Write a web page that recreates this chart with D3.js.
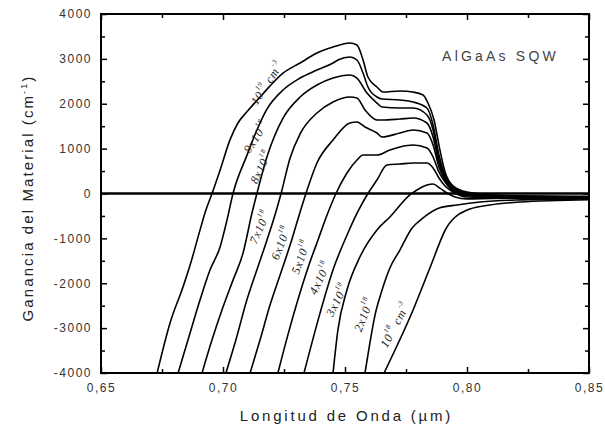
<!DOCTYPE html>
<html>
<head>
<meta charset="utf-8">
<script src="https://cdn.jsdelivr.net/npm/d3@7"></script>
<style>
  body { margin: 0; background: #fff; }
</style>
</head>
<body>
<div id="viz"></div>
<script>
// gain curves: [wavelength (um), gain (cm^-1)]
var g1e19 = [[0.6730,-4000],[0.6783,-2885],[0.6836,-2083],[0.6869,-1526],[0.6906,-810],[0.6930,-370],
  [0.6955,0],[0.6988,520],[0.7029,1200],[0.7060,1560],[0.7098,1820],[0.7152,2150],[0.7246,2685],[0.7316,2908],
  [0.7385,3130],[0.7451,3264],[0.7520,3353],[0.7549,3309],[0.7574,2975],[0.7594,2596],[0.7631,2373],
  [0.7656,2261],[0.7725,2284],[0.7779,2261],[0.7820,2195],[0.7840,2016],[0.7865,1637],[0.7889,969],
  [0.7910,480],[0.7943,170],[0.8000,30],[0.8100,-30],[0.8258,-55],[0.8500,-65]];
var g9e18 = [[0.6816,-4000],[0.6865,-3110],[0.6906,-2370],[0.6947,-1700],[0.6988,-1190],[0.7016,-600],
  [0.7041,0],[0.7098,850],[0.7139,1415],[0.7180,1880],[0.7246,2306],[0.7316,2573],[0.7385,2752],
  [0.7451,2908],[0.7471,2975],[0.7520,3041],[0.7549,2975],[0.7574,2685],[0.7594,2373],[0.7631,2150],
  [0.7652,2105],[0.7725,2083],[0.7779,2039],[0.7836,1905],[0.7861,1526],[0.7885,858],[0.7910,412],
  [0.7943,145],[0.8000,10],[0.8100,-40],[0.8250,-60],[0.8500,-75]];
var g8e18 = [[0.6914,-4000],[0.6955,-3260],[0.7000,-2530],[0.7041,-1930],[0.7082,-1330],[0.7119,-430],
  [0.7139,0],[0.7180,813],[0.7246,1680],[0.7316,2150],[0.7385,2417],[0.7451,2573],[0.7520,2640],
  [0.7549,2573],[0.7590,2239],[0.7631,2016],[0.7652,1927],[0.7725,1905],[0.7779,1905],[0.7836,1749],
  [0.7861,1415],[0.7885,746],[0.7910,368],[0.7943,120],[0.8000,0],[0.8100,-45],[0.8250,-65],[0.8500,-85]];
var g7e18 = [[0.7012,-4000],[0.7053,-3260],[0.7098,-2370],[0.7139,-1700],[0.7180,-1040],[0.7213,-480],
  [0.7238,0],[0.7275,790],[0.7316,1330],[0.7385,1794],[0.7451,2039],[0.7520,2150],[0.7549,2128],
  [0.7582,1860],[0.7631,1637],[0.7652,1637],[0.7725,1660],[0.7779,1682],[0.7836,1571],[0.7861,1259],
  [0.7885,680],[0.7910,345],[0.7943,100],[0.8000,-30],[0.8100,-55],[0.8250,-70],[0.8500,-85]];
var g6e18 = [[0.7111,-4000],[0.7152,-3260],[0.7193,-2480],[0.7234,-1815],[0.7275,-1150],[0.7316,-410],
  [0.7340,0],[0.7385,680],[0.7451,1192],[0.7520,1571],[0.7549,1593],[0.7582,1482],[0.7631,1348],
  [0.7652,1259],[0.7725,1348],[0.7779,1415],[0.7836,1348],[0.7861,1080],[0.7885,590],[0.7910,300],
  [0.7943,78],[0.8000,-30],[0.8100,-60],[0.8250,-75],[0.8500,-90]];
var g5e18 = [[0.7225,-4000],[0.7266,-3150],[0.7307,-2370],[0.7348,-1660],[0.7389,-1040],[0.7430,-430],
  [0.7463,0],[0.7508,457],[0.7549,746],[0.7574,858],[0.7631,858],[0.7684,969],[0.7725,1036],
  [0.7779,1080],[0.7836,1013],[0.7861,813],[0.7885,480],[0.7910,256],[0.7943,56],[0.8000,-50],
  [0.8100,-70],[0.8250,-80],[0.8500,-95]];
var g4e18 = [[0.7332,-4000],[0.7398,-2660],[0.7451,-1700],[0.7512,-880],[0.7552,-410],[0.7594,0],
  [0.7631,301],[0.7672,635],[0.7725,657],[0.7779,680],[0.7836,680],[0.7861,570],[0.7885,345],
  [0.7910,167],[0.7943,33],[0.8000,-78],[0.8100,-85],[0.8250,-90],[0.8500,-100]];
var g3e18 = [[0.7451,-4000],[0.7471,-3041],[0.7508,-2150],[0.7561,-1415],[0.7631,-813],[0.7684,-524],
  [0.7766,-33],[0.7795,78],[0.7836,189],[0.7861,212],[0.7889,120],[0.7918,11],[0.7951,-78],
  [0.8000,-120],[0.8100,-110],[0.8250,-105],[0.8500,-105]];
var g2e18 = [[0.7582,-4000],[0.7602,-3330],[0.7623,-2710],[0.7648,-2220],[0.7684,-1660],[0.7725,-1260],
  [0.7775,-770],[0.7820,-545],[0.7889,-320],[0.7959,-256],[0.8053,-190],[0.8200,-145],[0.8500,-120]];
var g1e18 = [[0.7660,-4000],[0.7779,-2596],[0.7848,-1660],[0.7918,-746],[0.8012,-345],[0.8094,-256],
  [0.8217,-190],[0.8500,-140]];

var series = [g1e19, g9e18, g8e18, g7e18, g6e18, g5e18, g4e18, g3e18, g2e18, g1e18];

// curve labels: base, exponent, unit
var labelBase = ["10", "9x10", "8x10", "7x10", "6x10", "5x10", "4x10", "3x10", "2x10", "10"];
var labelExp = ["19", "18", "18", "18", "18", "18", "18", "18", "18", "18"];
var labelUnit = [true, false, false, false, false, false, false, false, false, true];
// where each label sits: wavelength, gain, rotation
var labelAt = [[0.7180,2460,-57],[0.7135,1260,-57],[0.7156,590,-64],[0.7152,-750,-66],
  [0.7238,-1100,-68],[0.7320,-1415,-70],[0.7398,-1880,-64],[0.7468,-2370,-63],
  [0.7578,-2700,-68],[0.7705,-2930,-62]];

var xMajor = [0.65, 0.70, 0.75, 0.80, 0.85];
var xMinor = [0.675, 0.725, 0.775, 0.825];
var yMajor = [-4000, -3000, -2000, -1000, 0, 1000, 2000, 3000, 4000];
var yMinor = [-3500, -2500, -1500, -500, 500, 1500, 2500, 3500];

var width = 605;
var height = 428;
var margin = {left: 101, top: 14, right: 16, bottom: 55};
var plotW = width - margin.left - margin.right;
var plotH = height - margin.top - margin.bottom;

var x = d3.scaleLinear().domain([0.65, 0.85]).range([0, plotW]);
var y = d3.scaleLinear().domain([-4000, 4000]).range([plotH, 0]);

var svg = d3.select("#viz")
  .append("svg")
  .attr("width", width)
  .attr("height", height);

svg.append("defs").append("clipPath")
  .attr("id", "clip")
  .append("rect")
  .attr("width", plotW)
  .attr("height", plotH);

var plot = svg.append("g")
  .attr("transform", "translate(" + margin.left + "," + margin.top + ")");

var fmtX = function(d) { return d3.format(".2f")(d).replace(".", ","); };
var fmtY = function(d) { return d < 0 ? "-" + Math.abs(d) : String(d); };

function tickAxis(axis, tr) {
  var g = plot.append("g").attr("transform", tr).call(axis);
  g.select(".domain").remove();
  g.selectAll("line").attr("stroke", "#000").attr("stroke-width", 1.5);
  g.selectAll("text")
    .attr("fill", "#333")
    .attr("font-family", "Liberation Sans, Arial, sans-serif")
    .attr("font-size", "12px")
    .attr("letter-spacing", "1.5px");
  return g;
}

// bottom / left with labels
tickAxis(d3.axisBottom(x).tickValues(xMajor).tickSize(-6).tickSizeOuter(0)
  .tickPadding(10).tickFormat(fmtX), "translate(0," + plotH + ")");
tickAxis(d3.axisBottom(x).tickValues(xMinor).tickSize(-4).tickSizeOuter(0)
  .tickFormat(""), "translate(0," + plotH + ")");
tickAxis(d3.axisLeft(y).tickValues(yMajor).tickSize(-6).tickSizeOuter(0)
  .tickPadding(9).tickFormat(fmtY), "translate(0,0)");
tickAxis(d3.axisLeft(y).tickValues(yMinor).tickSize(-4).tickSizeOuter(0)
  .tickFormat(""), "translate(0,0)");
// top / right, ticks only
tickAxis(d3.axisTop(x).tickValues(xMajor).tickSize(-6).tickSizeOuter(0).tickFormat(""), "translate(0,0)");
tickAxis(d3.axisTop(x).tickValues(xMinor).tickSize(-4).tickSizeOuter(0).tickFormat(""), "translate(0,0)");
tickAxis(d3.axisRight(y).tickValues(yMajor).tickSize(-6).tickSizeOuter(0).tickFormat(""), "translate(" + plotW + ",0)");
tickAxis(d3.axisRight(y).tickValues(yMinor).tickSize(-4).tickSizeOuter(0).tickFormat(""), "translate(" + plotW + ",0)");

// zero line
plot.append("line")
  .attr("x1", 0)
  .attr("x2", plotW)
  .attr("y1", y(0))
  .attr("y2", y(0))
  .attr("stroke", "#000")
  .attr("stroke-width", 2.5);

// curves
var line = d3.line()
  .x(function(d) { return x(d[0]); })
  .y(function(d) { return y(d[1]); })
  .curve(d3.curveMonotoneX);

plot.append("g")
  .attr("clip-path", "url(#clip)")
  .selectAll("path")
  .data(series)
  .enter()
  .append("path")
  .attr("d", line)
  .attr("fill", "none")
  .attr("stroke", "#000")
  .attr("stroke-width", 1.6)
  .attr("stroke-linejoin", "round");

// frame
plot.append("rect")
  .attr("width", plotW)
  .attr("height", plotH)
  .attr("fill", "none")
  .attr("stroke", "#000")
  .attr("stroke-width", 2);

// curve labels
var labels = plot.append("g")
  .selectAll("text")
  .data(labelAt)
  .enter()
  .append("text")
  .attr("transform", function(d) {
    return "translate(" + x(d[0]) + "," + y(d[1]) + ") rotate(" + d[2] + ")";
  })
  .attr("text-anchor", "middle")
  .attr("dominant-baseline", "central")
  .attr("font-family", "Liberation Serif, Times New Roman, serif")
  .attr("font-style", "italic")
  .attr("font-size", "12px")
  .attr("letter-spacing", "0.8px")
  .attr("fill", "#222");

labels.each(function(d, i) {
  var t = d3.select(this);
  t.append("tspan").text(labelBase[i]);
  t.append("tspan").text(labelExp[i]).attr("font-size", "7px").attr("dy", "-5");
  if (labelUnit[i]) {
    t.append("tspan").text(" cm").attr("dy", "5");
    t.append("tspan").text("-3").attr("font-size", "7px").attr("dy", "-5");
  }
});

// inset title
plot.append("text")
  .attr("x", x(0.7898))
  .attr("y", y(3060))
  .attr("dominant-baseline", "central")
  .attr("font-family", "Liberation Sans, Arial, sans-serif")
  .attr("font-size", "14px")
  .attr("letter-spacing", "3.2px")
  .attr("fill", "#444")
  .text("AlGaAs SQW");

// axis titles
svg.append("text")
  .attr("x", margin.left + x(0.7506))
  .attr("y", 421)
  .attr("text-anchor", "middle")
  .attr("font-family", "Liberation Sans, Arial, sans-serif")
  .attr("font-size", "15px")
  .attr("letter-spacing", "2.8px")
  .attr("fill", "#222")
  .text("Longitud de Onda (\u00b5m)");

var yt = svg.append("text")
  .attr("transform", "translate(33," + 198 + ") rotate(-90)")
  .attr("text-anchor", "middle")
  .attr("font-family", "Liberation Sans, Arial, sans-serif")
  .attr("font-size", "15px")
  .attr("letter-spacing", "2.1px")
  .attr("fill", "#222");
yt.append("tspan").text("Ganancia del Material (cm");
yt.append("tspan").text("-1").attr("font-size", "9px").attr("dy", "-6");
yt.append("tspan").text(")").attr("dy", "6");
</script>
</body>
</html>
